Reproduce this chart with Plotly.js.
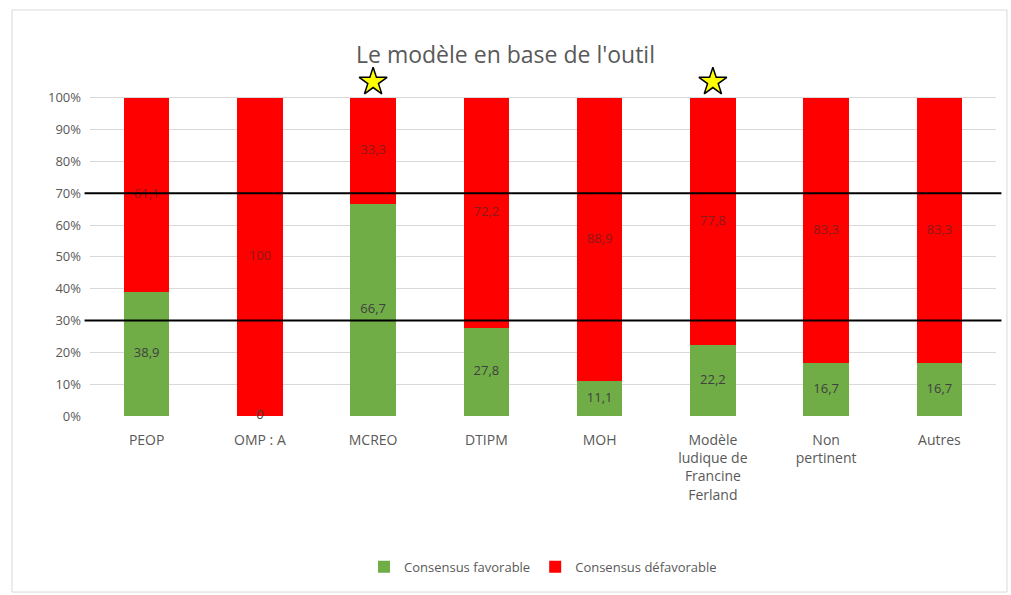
<!DOCTYPE html>
<html>
<head>
<meta charset="utf-8">
<script src="https://cdn.plot.ly/plotly-3.0.1.min.js"></script>
<style>html,body{margin:0;padding:0;background:#fff;}#chart{width:1011px;height:595px;}</style>
</head>
<body>
<div id="chart"></div>
<script>
const categories = ["PEOP", "OMP : A", "MCREO", "DTIPM", "MOH", "Modèle<br>ludique de<br>Francine<br>Ferland", "Non<br>pertinent", "Autres"];
const favorable = [38.9, 0, 66.7, 27.8, 11.1, 22.2, 16.7, 16.7];
const defavorable = [61.1, 100, 33.3, 72.2, 88.9, 77.8, 83.3, 83.3];
const starred = ["MCREO", "Modèle<br>ludique de<br>Francine<br>Ferland"];
const starLevel = 105;
const thresholds = [30, 70];
const yTicks = [0, 10, 20, 30, 40, 50, 60, 70, 80, 90, 100];

const fmt = v => (v === 0 ? "0" : (Number.isInteger(v) ? String(v) : v.toFixed(1).replace('.', ',')));

const traces = [
  {type:'bar', name:'Consensus favorable', x:categories, y:favorable, marker:{color:'#70ad47'}, width:0.4, hoverinfo:'skip'},
  {type:'bar', name:'Consensus défavorable', x:categories, y:defavorable, marker:{color:'#ff0000'}, width:0.4, hoverinfo:'skip'},
  {type:'scatter', mode:'text', x:categories, y:favorable.map(v => v/2), text:favorable.map(fmt),
   textposition:'middle center',
   textfont:{family:'Open Sans, sans-serif', size:13, color:'#404040'}, showlegend:false, cliponaxis:false, hoverinfo:'skip'},
  {type:'scatter', mode:'text', x:categories, y:defavorable.map((v,i) => favorable[i] + v/2), text:defavorable.map(fmt),
   textfont:{family:'Open Sans, sans-serif', size:13, color:'#8b1a1a'}, showlegend:false, cliponaxis:false, hoverinfo:'skip'},
  {type:'scatter', mode:'markers', x:starred, y:starred.map(() => starLevel),
   marker:{symbol:'star', size:21, color:'#ffff00', line:{color:'#000', width:1.5}}, showlegend:false, cliponaxis:false, hoverinfo:'skip'}
];

const shapes = thresholds.map(t => ({type:'line', xref:'paper', x0:-0.006, x1:1.006, yref:'y', y0:t, y1:t, line:{color:'#000', width:2}}));
shapes.push({type:'rect', xref:'paper', yref:'paper', x0:-0.0861, x1:1.0121, y0:-0.503, y1:1.16, line:{color:'#d9d9d9', width:1}, layer:'below'});

const layout = {
  width:1011, height:595,
  margin:{l:90, r:15, t:66, b:179},
  paper_bgcolor:'#fff', plot_bgcolor:'#fff',
  font:{family:'Open Sans, sans-serif', color:'#595959', size:13},
  title:{text:"Le modèle en base de l'outil", x:0.5, xanchor:'center', y:0.9076, yanchor:'middle', font:{size:23, color:'#595959', family:'Open Sans, sans-serif'}},
  barmode:'stack',
  xaxis:{type:'category', tickfont:{size:14, color:'#595959'}, ticklabelstandoff:14, showgrid:false, showline:false, ticks:'', zeroline:false, fixedrange:true},
  yaxis:{range:[0,110], tickvals:yTicks, ticktext:yTicks.map(v => v + '%'), tickfont:{size:13, color:'#595959'}, ticklabelstandoff:8, gridcolor:'#d9d9d9', gridwidth:1, zeroline:false, showline:false, ticks:'', fixedrange:true},
  legend:{orientation:'h', traceorder:'normal', x:0.5, xanchor:'center', y:-0.431, yanchor:'middle', font:{size:13, color:'#595959'}},
  shapes:shapes,
  showlegend:true
};

Plotly.newPlot('chart', traces, layout, {displayModeBar:false, staticPlot:true});
</script>
</body>
</html>
